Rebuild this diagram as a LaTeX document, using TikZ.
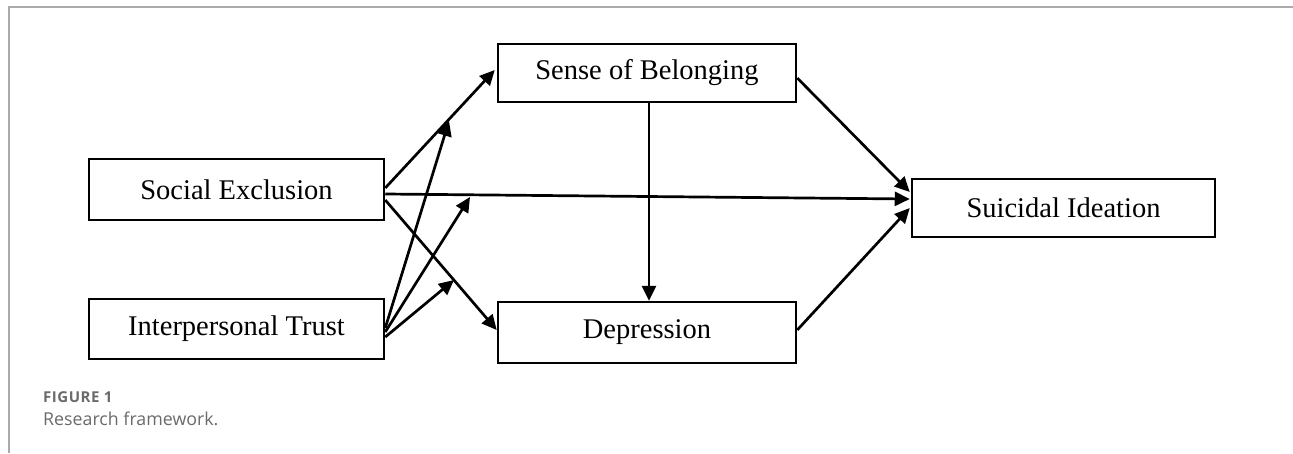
\documentclass[tikz,border=0pt]{standalone}
\usepackage{fontspec}
\setmainfont{Liberation Serif}
\newfontfamily\capfont{Open Sans}
\newfontfamily\capboldfont[LetterSpace=3.5]{Open Sans}
\usetikzlibrary{arrows.meta,calc}
\definecolor{framegray}{HTML}{AAAAAA}
\definecolor{capgray}{HTML}{6A6A6A}
\tikzset{
  x=1pt, y=-1pt,
  box/.style={draw=black, line width=2.5pt, rectangle, inner sep=0pt, font=\fontsize{28.5}{31}\selectfont},
  arr/.style={line width=2.7pt, -{Triangle[length=15pt,width=14pt]}},
}
\begin{document}
\begin{tikzpicture}
\useasboundingbox (0,0) rectangle (1293,453);
% frame
\draw[framegray, line width=1.5pt] (9,453) -- (9,7) -- (1293,7);
% nodes
\node[box, minimum width=295pt, minimum height=61pt] (SE) at (236.5,189.5) {Social Exclusion};
\node[box, minimum width=295pt, minimum height=60pt] (IT) at (236.5,329) {Interpersonal Trust};
\node[box, minimum width=298pt, minimum height=58pt] (SoB) at (647,73) {Sense of Belonging};
\node[box, minimum width=298pt, minimum height=61pt] (Dep) at (647,332.5) {Depression};
\node[box, minimum width=303pt, minimum height=58pt] (SI) at (1063.5,208) {Suicidal Ideation};
% moderation target points
\coordinate (m1) at (449,121);
\coordinate (m2) at (470,197);
\coordinate (m3) at (454,280);
% arrows
\draw[arr] ($(SE.east)+(0,-1.5)$) -- ($(SoB.west)+(-2,-3)$);
\draw[arr] ($(SE.east)+(0,4.5)$) -- ($(SI.west)+(-1,-9)$);
\draw[arr] ($(SE.east)+(0,10.5)$) -- ($(Dep.west)+(0,-2.5)$);
\draw[arr] ($(IT.east)+(0,-1)$) -- (m1);
\draw[arr] ($(IT.east)+(0,3)$) -- (m2);
\draw[arr] ($(IT.east)+(0,8)$) -- (m3);
\draw[arr] ($(SoB.south)+(2,0)$) -- ($(Dep.north)+(2,0)$);
\draw[arr] ($(SoB.east)+(0,5)$) -- ($(SI.west)+(-1,-16)$);
\draw[arr] ($(Dep.east)+(0,-2.5)$) -- ($(SI.west)+(-1,0)$);
% caption
\node[anchor=base west, inner sep=0pt, text=capgray, font=\capboldfont\bfseries\fontsize{15}{17}\selectfont] (cap1) at (43,402) {FIGURE 1};
\node[anchor=base west, inner sep=0pt, text=capgray, font=\capfont\fontsize{17.8}{20}\selectfont] (cap2) at (43,425) {Research framework.};
\end{tikzpicture}
\end{document}
